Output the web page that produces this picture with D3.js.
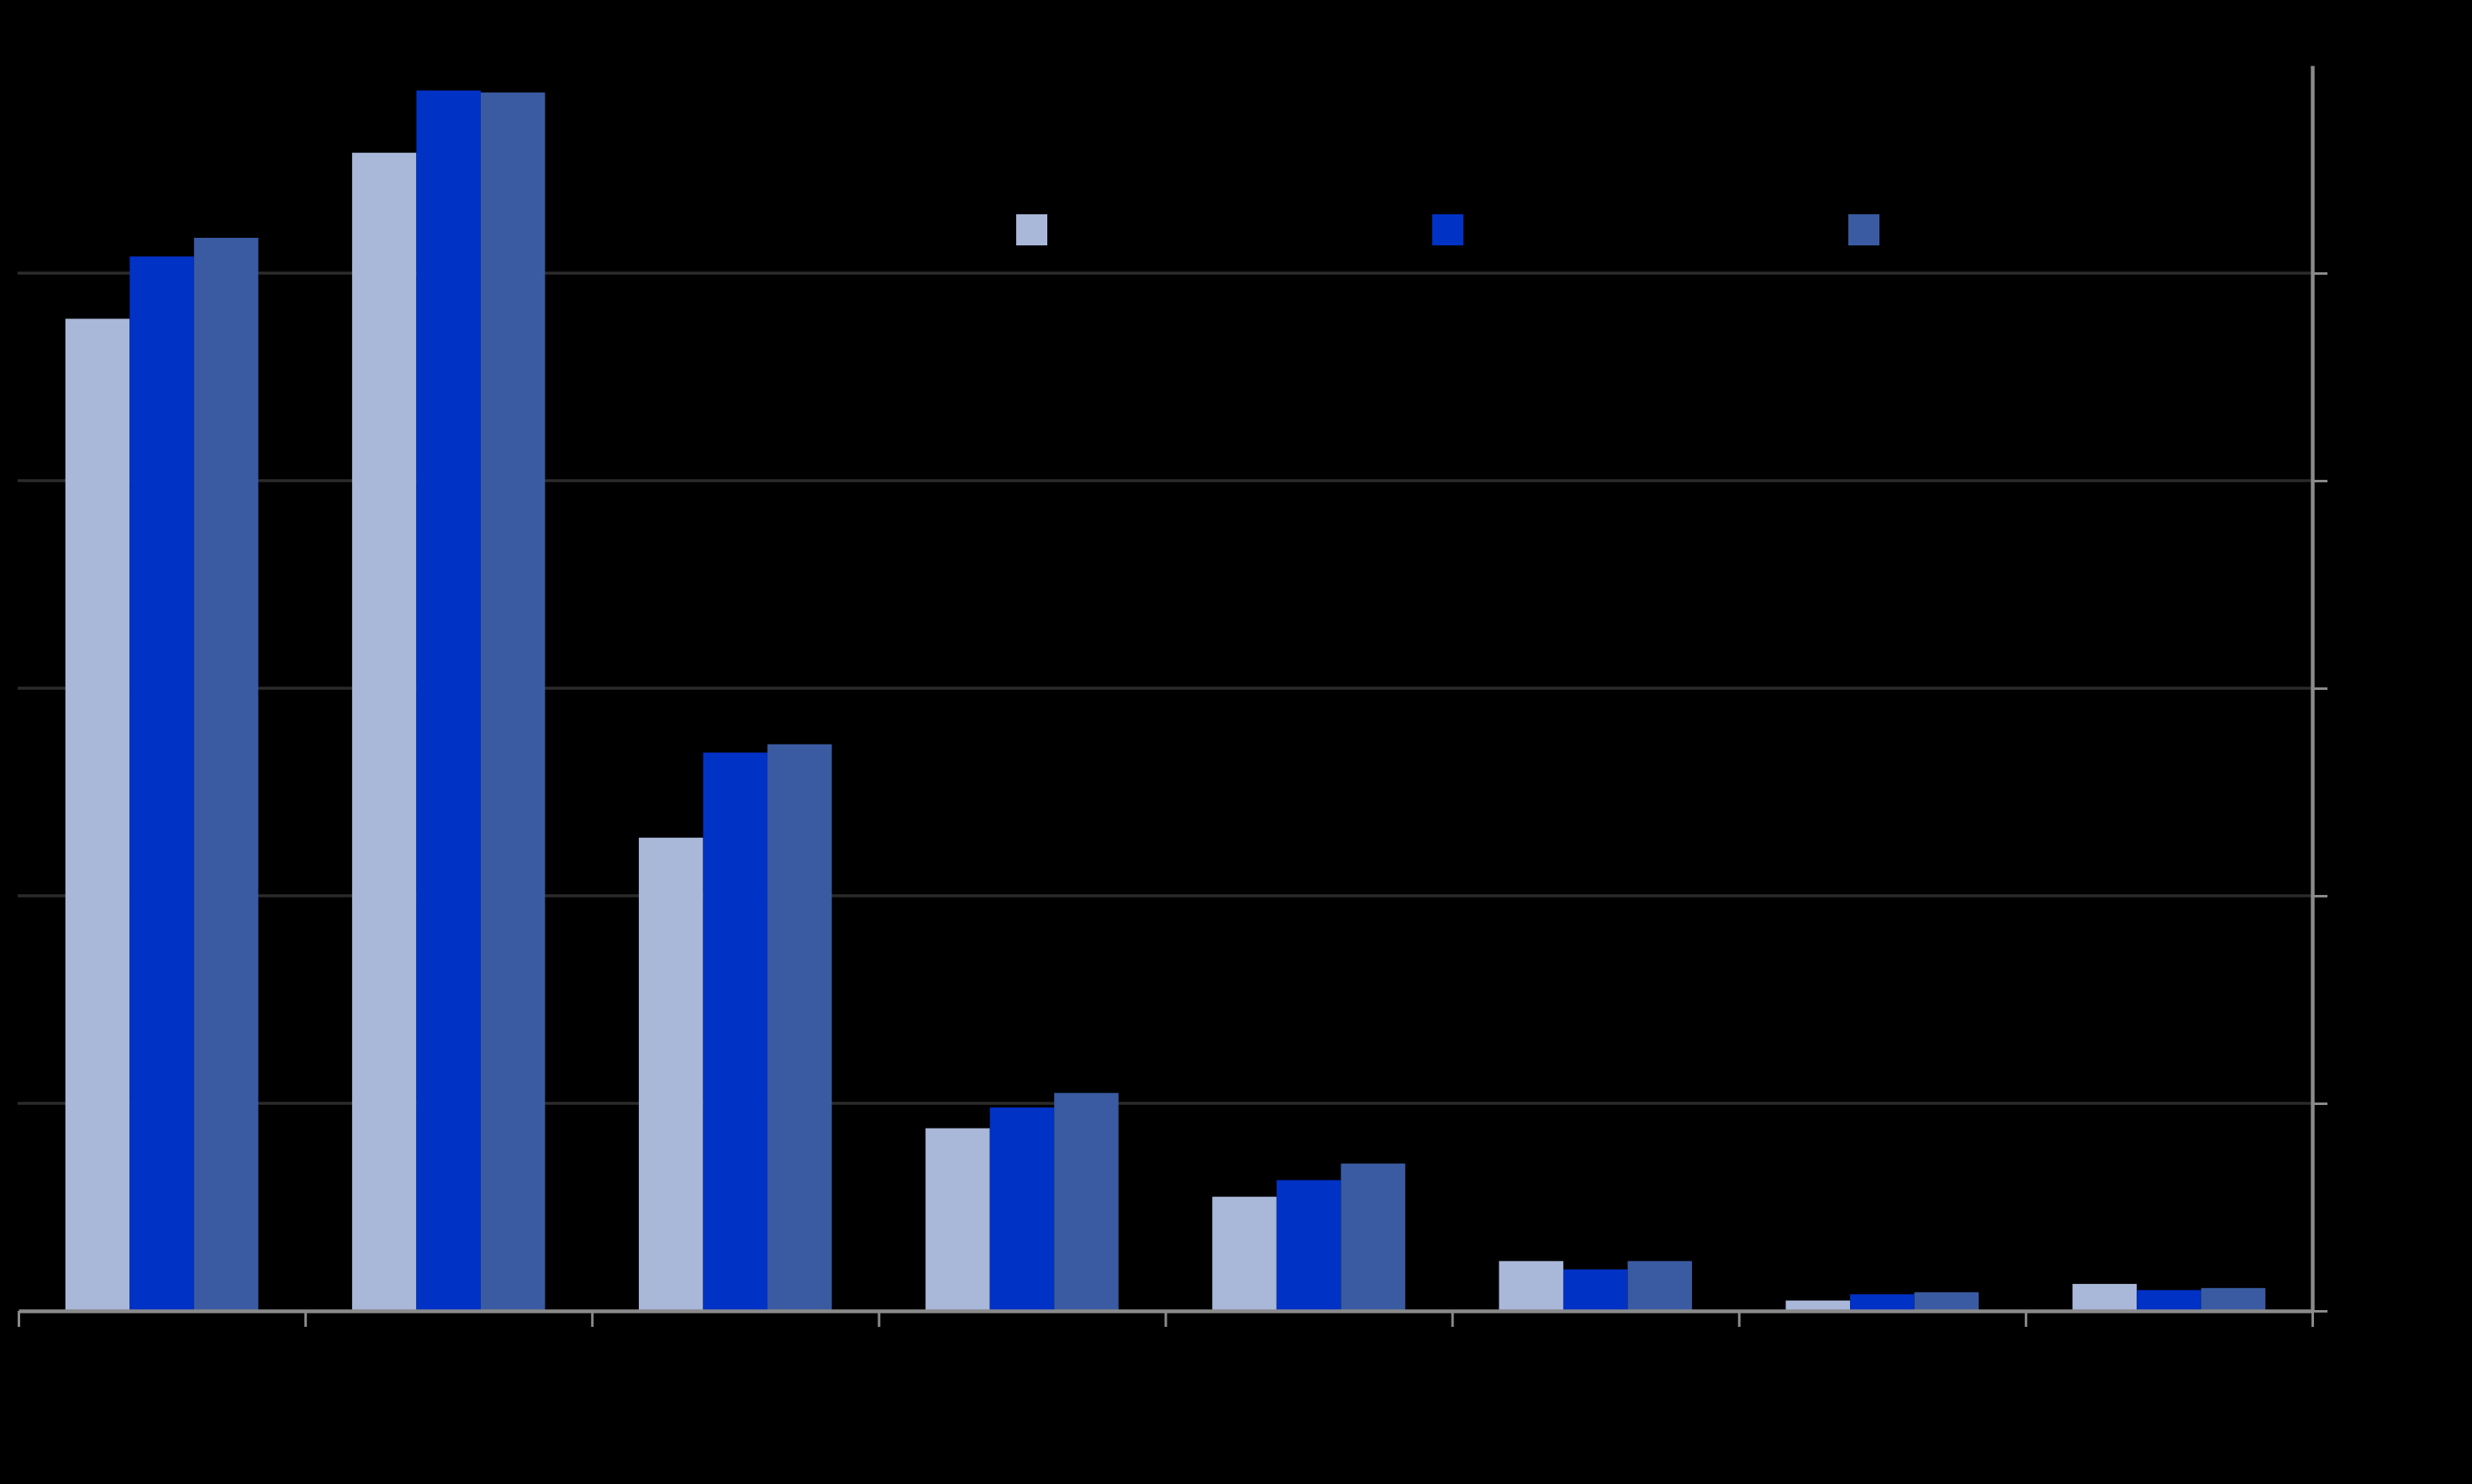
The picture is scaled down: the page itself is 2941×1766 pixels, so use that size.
<!DOCTYPE html>
<html>
<head>
<meta charset="utf-8">
<script src="https://cdn.jsdelivr.net/npm/d3@7"></script>
<style>
  html, body { margin: 0; padding: 0; background: #000; }
  svg { display: block; }
</style>
</head>
<body>
<svg id="chart" width="2941" height="1766"></svg>
<script>
// Data (category labels and legend names are not visible in the reference)
const categories = ["C1", "C2", "C3", "C4", "C5", "C6", "C7", "C8"];
const seriesNames = ["S1", "S2", "S3"];
const seriesA = [47.8, 55.8, 22.8, 8.8, 5.5, 2.4, 0.5, 1.3];
const seriesB = [50.8, 58.8, 26.9, 9.8, 6.3, 2.0, 0.8, 1.0];
const seriesC = [51.7, 58.7, 27.3, 10.5, 7.1, 2.4, 0.9, 1.1];
const yTicks = [0, 10, 20, 30, 40, 50];
const colors = ["#a9b7d9", "#0032c6", "#3a5ba2"];

(function () {
  const seriesValues = [seriesA, seriesB, seriesC];
  const table = categories.map((c, i) => ({
    cat: c,
    vals: seriesNames.map((s, j) => ({ key: s, value: seriesValues[j][i] }))
  }));

  const svg = d3.select("#chart");
  const W = 2941, H = 1766;
  svg.append("rect").attr("width", W).attr("height", H).attr("fill", "#000");

  const mLeft = 22, mRight = 2751, mTop = 78, mBottom = 1560;

  const x0 = d3.scaleBand().domain(categories).range([mLeft, mRight]).padding(0);
  const groupW = x0.bandwidth() * 0.673;
  const x1 = d3.scaleBand().domain(seriesNames).range([0, groupW]).padding(0);
  const y = d3.scaleLinear().domain([0, 60]).range([mBottom, mTop]);
  const color = d3.scaleOrdinal().domain(seriesNames).range(colors);

  // gridlines
  svg.append("g")
    .selectAll("line")
    .data(yTicks.filter(t => t > 0))
    .join("line")
    .attr("x1", mLeft - 1).attr("x2", mRight)
    .attr("y1", d => y(d)).attr("y2", d => y(d))
    .attr("stroke", "#2b2b2b").attr("stroke-width", 3.5);

  // bars
  const groups = svg.append("g")
    .selectAll("g")
    .data(table)
    .join("g")
    .attr("transform", d => `translate(${x0(d.cat) + (x0.bandwidth() - groupW) / 2},0)`);

  groups.selectAll("rect")
    .data(d => d.vals)
    .join("rect")
    .attr("x", d => x1(d.key))
    .attr("width", x1.bandwidth())
    .attr("y", d => y(d.value))
    .attr("height", d => y(0) - y(d.value))
    .attr("fill", d => color(d.key));

  // bottom axis (ticks at category boundaries)
  const xEdge = d3.scaleLinear().domain([0, categories.length]).range([mLeft, mRight]);
  const gx = svg.append("g")
    .attr("transform", `translate(0,${mBottom})`)
    .call(d3.axisBottom(xEdge)
      .tickValues(d3.range(categories.length + 1))
      .tickFormat("")
      .tickSize(19)
      .tickSizeOuter(0));
  gx.select(".domain").attr("stroke", "#8a8a8a").attr("stroke-width", 4.5);
  gx.selectAll(".tick line").attr("stroke", "#8a8a8a").attr("stroke-width", 3);

  // right axis
  const gy = svg.append("g")
    .attr("transform", `translate(${mRight},0)`)
    .call(d3.axisRight(y)
      .tickValues(yTicks)
      .tickFormat("")
      .tickSize(18)
      .tickSizeOuter(0));
  gy.select(".domain").attr("stroke", "#8a8a8a").attr("stroke-width", 4.5);
  gy.selectAll(".tick line").attr("stroke", "#8a8a8a").attr("stroke-width", 3);

  // legend swatches
  const legendX = d3.scaleLinear().domain([0, 2]).range([1209, 2199]);
  svg.append("g")
    .selectAll("rect")
    .data(seriesNames)
    .join("rect")
    .attr("x", (d, i) => legendX(i))
    .attr("y", 255)
    .attr("width", 37)
    .attr("height", 37)
    .attr("fill", d => color(d));
})();
</script>
</body>
</html>
